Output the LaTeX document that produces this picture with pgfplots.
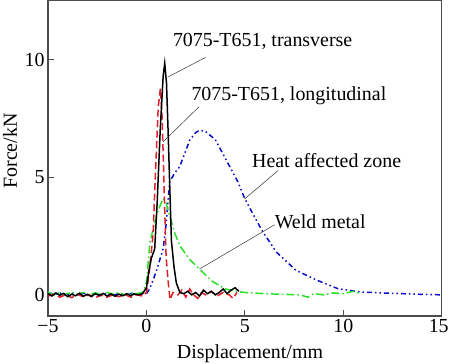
\documentclass[border=0pt]{standalone}
\usepackage{pgfplots}
\pgfplotsset{compat=1.18}
\usepackage{fontspec}
\setmainfont{Liberation Serif}
\definecolor{cred}{RGB}{225,30,40}
\definecolor{cgreen}{RGB}{40,225,40}
\definecolor{cblue}{RGB}{10,10,200}
\begin{document}
\begin{tikzpicture}[font=\fontsize{20}{24}\selectfont]
\begin{axis}[
  scale only axis, width=393.7bp, height=316bp,
  xmin=-5, xmax=15, ymin=-0.9, ymax=12.54,
  xtick={-5,0,5,10,15}, xticklabels={−5,0,5,10,{\makebox[0pt][r]{15\hspace{-7bp}}}},
  ytick={0,5,10}, yticklabels={0,5,10},
  tick align=inside, tick pos=left, major tick length=6bp,
  axis line style={line width=1.4bp, draw=black!70},
  tick style={line width=0.8bp, black!70},
  tick label style={font=\fontsize{20}{24}\selectfont},
  every axis y label/.style={at={(axis description cs:-0.0965,0.522)}, rotate=90, anchor=center},
  every axis x label/.style={at={(axis description cs:0.513,-0.136)}, anchor=base},
  xlabel={Displacement/mm}, ylabel={Force/kN},
  clip=true,
]
% Heat affected zone (blue, dash-dot-dot)
\addplot[cblue, line width=1.5bp, dash pattern=on 5bp off 3bp on 1.5bp off 3bp on 1.5bp off 3bp] coordinates {
(-5,0.1) (-4.7,0.02) (-4.4,0.08) (-4.1,-0.02) (-3.8,0.06) (-3.5,0.0) (-3.2,0.07) (-2.9,-0.03) (-2.6,0.05) (-2.3,0.0) (-2.0,0.06) (-1.7,-0.02) (-1.4,0.05) (-1.1,0.0) (-0.8,0.06) (-0.5,0.02) (-0.2,0.05)
(0,0.05) (0.17,0.26) (0.5,1.0) (0.85,1.96) (1.0,3.0) (1.18,4.8) (1.45,5.2) (1.69,5.45) (2.2,6.58) (2.5,6.9) (2.7,7.0) (3.0,6.95) (3.5,6.6) (4.14,5.6) (4.65,4.8) (5.0,4.08) (5.5,3.3) (5.92,2.67) (6.6,1.82) (7.6,1.04) (8.7,0.61) (9.73,0.26) (10.9,0.12) (12,0.08) (13,0.05) (14,0.02) (15,0.0)
};
% Weld metal (green, dash-dot)
\addplot[cgreen, line width=1.5bp, dash pattern=on 8bp off 3bp on 1.5bp off 3bp] coordinates {
(-5,0.12) (-4.7,0.0) (-4.4,0.1) (-4.1,0.02) (-3.8,0.12) (-3.5,0.03) (-3.2,0.1) (-2.9,0.0) (-2.6,0.09) (-2.3,0.02) (-2.0,0.1) (-1.7,0.03) (-1.4,0.1) (-1.1,0.0) (-0.8,0.08) (-0.5,0.05) (-0.2,0.1)
(0,0.5) (0.17,2.2) (0.4,3.0) (0.6,3.6) (0.85,4.1) (1.0,3.9) (1.2,3.3) (1.45,2.6) (1.69,2.1) (2.2,1.5) (2.7,1.1) (3.3,0.6) (3.97,0.26) (4.5,0.15) (5,0.1) (6,0.05) (7,0.02) (7.8,0.0) (8.2,-0.1) (8.5,0.05) (9,0.0) (9.5,0.08) (10,0.05) (10.5,0.15) (10.9,0.05)
};
% longitudinal (red, dashed)
\addplot[cred, line width=1.5bp, dash pattern=on 7bp off 3.5bp] coordinates {
(-5,-0.05) (-4.7,0.02) (-4.4,-0.1) (-4.1,0.0) (-3.8,-0.12) (-3.5,0.02) (-3.2,-0.08) (-2.9,0.0) (-2.6,-0.12) (-2.3,-0.02) (-2.0,-0.1) (-1.7,0.0) (-1.4,-0.08) (-1.1,0.02) (-0.8,-0.1) (-0.5,0.0) (-0.2,-0.05)
(0,0.1) (0.15,1.0) (0.34,2.6) (0.45,5.0) (0.6,8.0) (0.71,8.78) (0.8,7.5) (0.9,4.5) (1.0,1.6) (1.1,0.6) (1.2,-0.2) (1.35,0.1) (1.6,0.0) (1.8,0.2) (2.0,-0.1) (2.2,0.25) (2.4,0.0) (2.6,-0.15) (2.8,0.1) (3.0,0.0) (3.3,0.15) (3.6,-0.05) (3.9,0.1) (4.2,0.0) (4.4,-0.15) (4.6,0.1)
};
% transverse (black, solid)
\addplot[black, line width=1.5bp] coordinates {
(-5,0.05) (-4.8,-0.05) (-4.6,0.08) (-4.4,-0.02) (-4.2,0.06) (-4.0,-0.08) (-3.8,0.03) (-3.6,-0.04) (-3.4,0.07) (-3.2,-0.06) (-3.0,0.02) (-2.8,-0.07) (-2.6,0.05) (-2.4,-0.03) (-2.2,0.06) (-2.0,-0.05) (-1.8,0.04) (-1.6,-0.06) (-1.4,0.03) (-1.2,-0.04) (-1.0,0.05) (-0.8,-0.03) (-0.6,0.04) (-0.4,0.0) (-0.2,0.05)
(0,0.3) (0.12,1.0) (0.25,1.56) (0.42,1.95) (0.55,4.0) (0.7,7.0) (0.85,9.3) (0.93,9.85) (1.02,9.0) (1.1,7.0) (1.18,4.75) (1.27,2.3) (1.4,1.2) (1.52,0.5) (1.7,0.1) (1.9,0.05) (2.1,0.15) (2.3,0.0) (2.5,0.1) (2.7,-0.05) (2.9,0.2) (3.1,0.05) (3.3,0.15) (3.5,0.0) (3.7,0.1) (3.9,0.25) (4.1,0.05) (4.3,0.2) (4.5,0.3) (4.7,0.15)
};
% annotations
\draw[black!80, line width=0.5bp] (axis cs:3.01,10.1) -- (axis cs:1.08,9.26);
\draw[black!80, line width=0.5bp] (axis cs:2.67,8.0) -- (axis cs:0.85,6.51);
\draw[black!80, line width=0.5bp] (axis cs:6.68,5.28) -- (axis cs:4.99,4.08);
\draw[black!80, line width=0.5bp] (axis cs:6.51,2.98) -- (axis cs:2.7,1.1);
\node[anchor=base west, inner sep=0pt] at (axis cs:1.34,10.55) {7075-T651, transverse};
\node[anchor=base west, inner sep=0pt] at (axis cs:2.28,8.26) {7075-T651, longitudinal};
\node[anchor=base west, inner sep=0pt] at (axis cs:5.36,5.40) {Heat affected zone};
\node[anchor=base west, inner sep=0pt] at (axis cs:6.51,2.84) {Weld metal};
\end{axis}
\pgfresetboundingbox
\path (current axis.south west) ++(-48bp,-48bp) rectangle ++(450bp,364bp);
\end{tikzpicture}
\end{document}
